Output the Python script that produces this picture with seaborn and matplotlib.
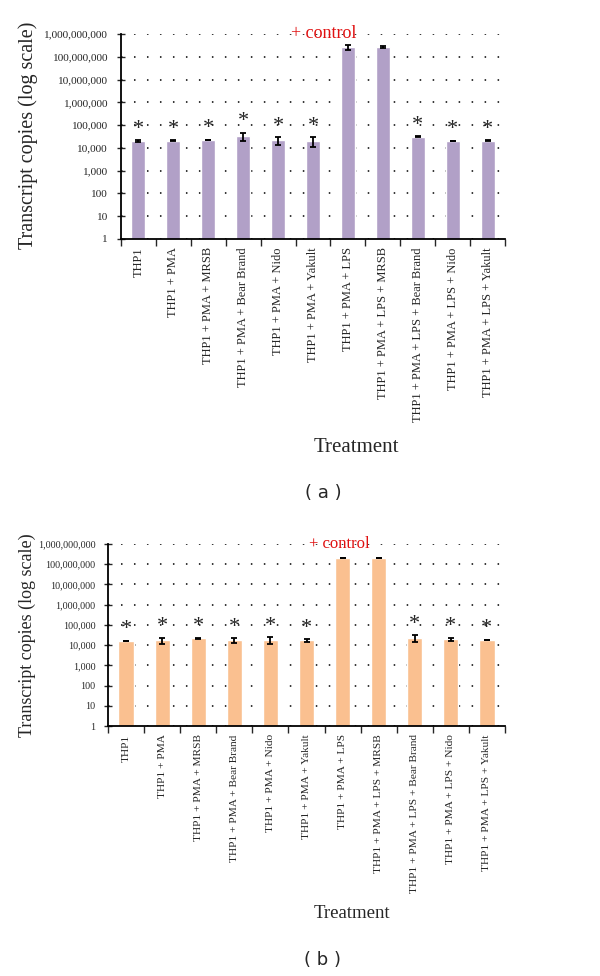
import numpy as np
import pandas as pd
import matplotlib
matplotlib.use("Agg")
import matplotlib.pyplot as plt
import seaborn as sns

# === Data ===
treatments = [
    "THP1",
    "THP1 + PMA",
    "THP1 + PMA + MRSB",
    "THP1 + PMA + Bear Brand",
    "THP1 + PMA + Nido",
    "THP1 + PMA + Yakult",
    "THP1 + PMA + LPS",
    "THP1 + PMA + LPS + MRSB",
    "THP1 + PMA + LPS + Bear Brand",
    "THP1 + PMA + LPS + Nido",
    "THP1 + PMA + LPS + Yakult",
]
copies_a = [19600, 21000, 22400, 32600, 21700, 20300, 2.57e8, 2.65e8, 31500, 20300, 21000]
sd_a = [2000, 700, 800, 13000, 8000, 9000, 6.5e7, 2.5e7, 2000, 700, 800]
copies_b = [15800, 17700, 21300, 17700, 17700, 17000, 2.09e8, 2.0e8, 23000, 19800, 17700]
sd_b = [600, 6000, 1500, 4500, 6500, 3000, 5e6, 5e6, 8000, 3500, 600]
signif = [True, True, True, True, True, True, False, False, True, True, True]
yticks = [10 ** k for k in range(10)]

# === Setup ===
sns.set_theme(style="white")
plt.rcParams["font.family"] = ["Liberation Serif", "DejaVu Serif"]

fig = plt.figure(figsize=(6, 9.76), dpi=100)
W, H = 600, 976


def px_axes(l, t, r, b):
    return fig.add_axes([l / W, 1 - b / H, (r - l) / W, (b - t) / H])


def draw_panel(ax, values, sds, color, tick_fs, tick_pad, xtick_fs, ctrl_x, ctrl_fs, bar_w):
    df = pd.DataFrame({"treatment": treatments, "copies": values})
    ax.set_yscale("log")
    sns.barplot(data=df, x="treatment", y="copies", color=color, saturation=1,
                width=bar_w, errorbar=None, ax=ax)
    ax.errorbar(np.arange(len(values)), values, yerr=sds, fmt="none",
                ecolor="black", elinewidth=1.3, capsize=2.5, capthick=1.3)
    ax.set_ylim(1, 1e9)
    ax.set_xlim(-0.5, len(values) - 0.5)
    for y in yticks:
        ax.axhline(y, color="black", lw=1.1, ls=(0, (1, 7.5)), zorder=0)
    # asterisks above error bars
    for i, (v, s) in enumerate(zip(values, sds)):
        if signif[i]:
            ax.annotate("*", (i, v + s), xytext=(0, 1), textcoords="offset points",
                        ha="center", va="bottom", fontsize=16, color="#222222")
    ax.text(ctrl_x, 1e9, "+ control", color="#e01010", fontsize=ctrl_fs,
            ha="center", va="center", zorder=5)
    ax.set_yticks(yticks)
    ax.set_yticklabels([f"{y:,}" for y in yticks], fontsize=tick_fs)
    ax.yaxis.set_minor_locator(matplotlib.ticker.NullLocator())
    ax.tick_params(axis="y", direction="inout", length=6, width=1, left=True, pad=tick_pad)
    ax.set_xticks(range(len(values)))
    ax.set_xticklabels(treatments, rotation=90, fontsize=xtick_fs)
    ax.tick_params(axis="x", length=0, pad=6)
    ax.set_xticks(np.arange(-0.5, len(values)), minor=True)
    ax.tick_params(axis="x", which="minor", bottom=True, direction="out", length=5, width=1)
    ax.set_xlabel("")
    ax.set_ylabel("")
    for sp in ["top", "right"]:
        ax.spines[sp].set_visible(False)
    for sp in ["left", "bottom"]:
        ax.spines[sp].set_color("black")
        ax.spines[sp].set_linewidth(1.3)


# === Panel (a) ===
ax1 = px_axes(121, 34, 505, 239)
draw_panel(ax1, copies_a, sd_a, "#b1a0c7", 8.2, 7, 9, 5.3, 13, 0.4)
fig.text(28 / W, 1 - 135 / H, "Transcript copies (log scale)", rotation=90,
         ha="center", va="center", fontsize=14.5)
fig.text(356 / W, 1 - 447 / H, "Treatment", ha="center", va="center", fontsize=15)
fig.text(323 / W, 1 - 493 / H, "( a )", ha="center", va="center", fontsize=13,
         family="DejaVu Sans")

# === Panel (b) ===
ax2 = px_axes(108, 544, 505, 726)
draw_panel(ax2, copies_b, sd_b, "#fac090", 7.2, 6, 8.2, 5.9, 12, 0.42)
fig.text(27 / W, 1 - 635 / H, "Transcript copies (log scale)", rotation=90,
         ha="center", va="center", fontsize=13)
fig.text(352 / W, 1 - 913 / H, "Treatment", ha="center", va="center", fontsize=13.5)
fig.text(323 / W, 1 - 960 / H, "( b )", ha="center", va="center", fontsize=13,
         family="DejaVu Sans")

fig.savefig("out.png", dpi=100)
plt.close()
